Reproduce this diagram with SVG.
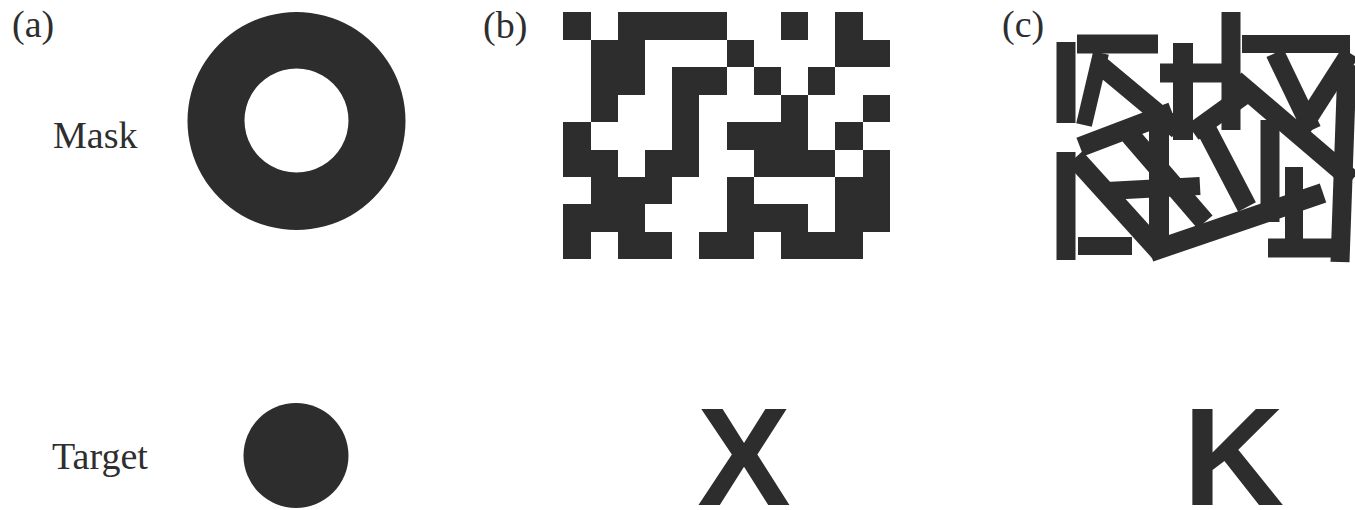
<svg xmlns="http://www.w3.org/2000/svg" width="1355" height="510" viewBox="0 0 1355 510">
<style>
.lbl{font-family:"Liberation Serif","Times New Roman",serif;font-size:38px;fill:#2e2e2e}
.big{font-family:"Liberation Sans",Arial,sans-serif;font-weight:bold;font-size:140px;fill:#2d2d2d}
.ink{fill:#2d2d2d}
.bar{stroke:#2d2d2d;stroke-width:19;stroke-linecap:butt;fill:none}
</style>
<rect width="1355" height="510" fill="#ffffff"/>
<g id="labels">
<text class="lbl" x="12" y="37">(a)</text>
<text class="lbl" x="483" y="38">(b)</text>
<text class="lbl" x="1002" y="37">(c)</text>
<text class="lbl" x="53" y="148">Mask</text>
<text class="lbl" x="52" y="469">Target</text>
</g>
<g id="mask-a">
<path class="ink" fill-rule="evenodd" d="M296.5 12a109 109 0 1 0 0.01 0z M296.5 68.5a52 52 0 1 1 -0.01 0z"/>
</g>
<g id="target-a">
<circle class="ink" cx="296" cy="455.5" r="52.5"/>
</g>
<g id="mask-b" transform="translate(563.3,12.3) scale(27.22,27.44)">
<path class="ink" shape-rendering="crispEdges" d="M0 0h1v1h-1z M2 0h4v1h-4z M8 0h1v1h-1z M10 0h1v1h-1z
M1 1h2v1h-2z M6 1h1v1h-1z M10 1h2v1h-2z
M1 2h2v1h-2z M4 2h2v1h-2z M7 2h1v1h-1z M9 2h1v1h-1z
M1 3h1v1h-1z M4 3h1v1h-1z M8 3h1v1h-1z M11 3h1v1h-1z
M0 4h1v1h-1z M4 4h1v1h-1z M6 4h3v1h-3z M10 4h1v1h-1z
M0 5h2v1h-2z M3 5h2v1h-2z M7 5h3v1h-3z M11 5h1v1h-1z
M1 6h3v1h-3z M6 6h1v1h-1z M10 6h2v1h-2z
M0 7h3v1h-3z M6 7h3v1h-3z M10 7h2v1h-2z
M0 8h1v1h-1z M2 8h2v1h-2z M5 8h2v1h-2z M8 8h3v1h-3z"/>
</g>
<g id="target-b">
<text class="big" x="744" y="505" text-anchor="middle">X</text>
</g>
<g id="mask-c">
<line class="bar" x1="1066" y1="42" x2="1066" y2="123"/>
<line class="bar" x1="1066" y1="152" x2="1066" y2="260"/>
<line class="bar" x1="1077" y1="44" x2="1158" y2="44"/>
<line class="bar" x1="1101" y1="53" x2="1084" y2="125" style="stroke-width:16"/>
<line class="bar" x1="1100" y1="65" x2="1178" y2="130"/>
<line class="bar" x1="1080" y1="147" x2="1172" y2="112" style="stroke-width:20"/>
<line class="bar" x1="1183" y1="43" x2="1183" y2="140" style="stroke-width:20"/>
<line class="bar" x1="1160" y1="73" x2="1240" y2="73"/>
<line class="bar" x1="1231" y1="12" x2="1231" y2="130"/>
<line class="bar" x1="1242" y1="44" x2="1350" y2="44" style="stroke-width:18"/>
<line class="bar" x1="1350" y1="53" x2="1302" y2="128"/>
<line class="bar" x1="1275" y1="53" x2="1312" y2="130"/>
<line class="bar" x1="1235" y1="80" x2="1352" y2="180" style="stroke-width:20"/>
<line class="bar" x1="1347" y1="65" x2="1340" y2="262"/>
<line class="bar" x1="1200" y1="117" x2="1247" y2="207" style="stroke-width:20"/>
<line class="bar" x1="1193" y1="132" x2="1247" y2="93"/>
<line class="bar" x1="1270" y1="120" x2="1270" y2="222"/>
<line class="bar" x1="1294" y1="167" x2="1294" y2="250" style="stroke-width:18"/>
<line class="bar" x1="1268" y1="248" x2="1347" y2="248"/>
<line class="bar" x1="1150" y1="252" x2="1323" y2="193" style="stroke-width:20"/>
<line class="bar" x1="1078" y1="246" x2="1132" y2="246" style="stroke-width:18"/>
<line class="bar" x1="1075" y1="158" x2="1160" y2="252" style="stroke-width:20"/>
<line class="bar" x1="1159" y1="120" x2="1159" y2="253" style="stroke-width:20"/>
<line class="bar" x1="1107" y1="191" x2="1200" y2="186" style="stroke-width:18"/>
<line class="bar" x1="1130" y1="135" x2="1205" y2="222" style="stroke-width:20"/>
</g>
<g id="target-c">
<text class="big" x="1183" y="505">K</text>
</g>
</svg>
